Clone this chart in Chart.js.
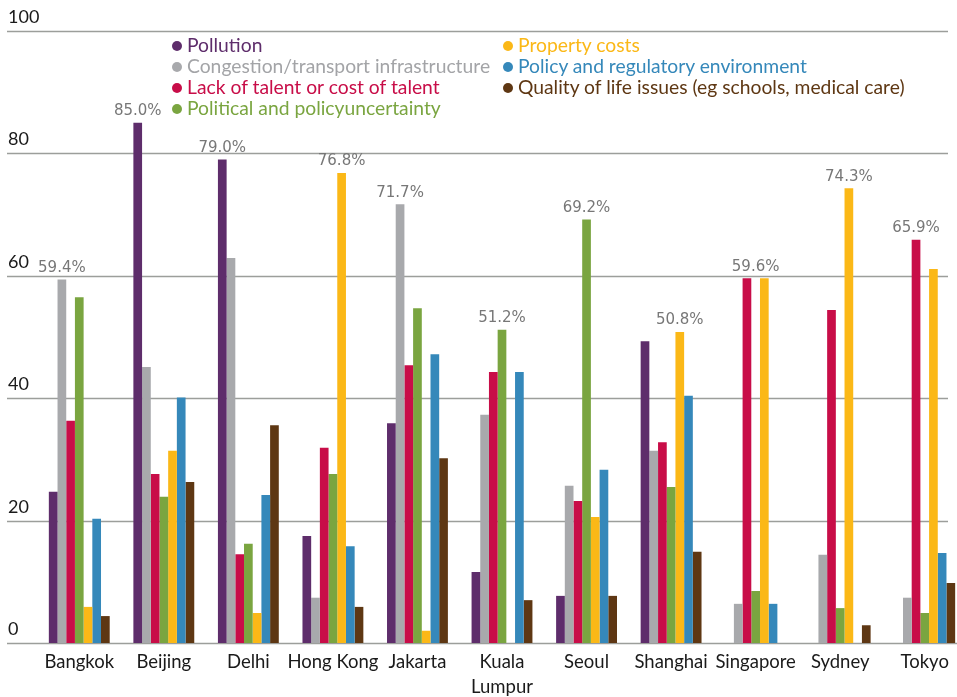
<!DOCTYPE html>
<html>
<head>
<meta charset="utf-8">
<script src="https://cdn.jsdelivr.net/npm/chart.js@4.4.1/dist/chart.umd.min.js"></script>
<style>
  html, body { margin: 0; padding: 0; overflow: hidden; background: #fff; }
  #wrap { position: relative; width: 967px; height: 697px; }
  #legend { position: absolute; left: 0; top: 0; font-family: Lato, sans-serif; font-size: 19.3px; }
  .item { position: absolute; white-space: nowrap; line-height: 21px; }
  .dot { display: inline-block; width: 10px; height: 10px; border-radius: 50%; margin-right: 5px; vertical-align: 1px; }
</style>
</head>
<body>
<div id="wrap">
  <canvas id="barChart" width="967" height="697"></canvas>
  <div id="legend"></div>
</div>
<script>
const cities = ["Bangkok", "Beijing", "Delhi", "Hong Kong", "Jakarta", ["Kuala", "Lumpur"], "Seoul", "Shanghai", "Singapore", "Sydney", "Tokyo"];

const pollution    = [24.7, 85.0, 79.0, 17.5, 35.9, 11.6,  7.7, 49.3,  0.0,  0.0,  0.0];
const congestion   = [59.4, 45.1, 62.9,  7.4, 71.7, 37.3, 25.7, 31.4,  6.4, 14.4,  7.4];
const talent       = [36.3, 27.6, 14.5, 31.9, 45.4, 44.3, 23.2, 32.8, 59.6, 54.4, 65.9];
const political    = [56.5, 23.9, 16.2, 27.6, 54.7, 51.2, 69.2, 25.5,  8.5,  5.7,  4.9];
const property     = [ 5.9, 31.4,  4.9, 76.8,  2.0,  0.0, 20.6, 50.8, 59.6, 74.3, 61.1];
const policy       = [20.3, 40.1, 24.2, 15.8, 47.2, 44.3, 28.3, 40.4,  6.4,  0.0, 14.7];
const quality      = [ 4.4, 26.3, 35.6,  5.9, 30.2,  7.0,  7.7, 14.9,  0.0,  2.9,  9.8];

const seriesNames = [
  "Pollution",
  "Congestion/transport infrastructure",
  "Lack of talent or cost of talent",
  "Political and policyuncertainty",
  "Property costs",
  "Policy and regulatory environment",
  "Quality of life issues (eg schools, medical care)"
];
const seriesColors = ["#5e2d6b", "#a8a9ac", "#c80d48", "#7aa540", "#fbb817", "#3588ba", "#5e3713"];
const seriesValues = [pollution, congestion, talent, political, property, policy, quality];

const yTicks = [0, 20, 40, 60, 80, 100];

// legenda em duas colunas
const legend = document.getElementById("legend");
seriesNames.forEach((nome, i) => {
  const col = i < 4 ? 0 : 1;
  const row = i < 4 ? i : i - 4;
  const div = document.createElement("div");
  div.className = "item";
  div.style.left = (col === 0 ? 172 : 503) + "px";
  div.style.top = (34 + row * 21) + "px";
  div.style.color = i === 1 ? "#a3a4a7" : seriesColors[i];
  div.innerHTML = '<span class="dot" style="background:' + seriesColors[i] + '"></span>' + nome;
  legend.appendChild(div);
});

const gradePlugin = {
  id: "grade",
  beforeDatasetsDraw(chart) {
    const { ctx } = chart;
    const y = chart.scales.y;
    ctx.save();
    yTicks.forEach((v) => {
      const py = Math.round(y.getPixelForValue(v)) + 0.5;
      ctx.strokeStyle = "#9c9e9b";
      ctx.lineWidth = 1.5;
      ctx.beginPath();
      ctx.moveTo(7, py);
      ctx.lineTo(v === 0 ? 967 : 948, py);
      ctx.stroke();
      ctx.fillStyle = "#1a1a1a";
      ctx.font = "18px Lato";
      ctx.textBaseline = "bottom";
      ctx.textAlign = "left";
      ctx.fillText(String(v), 8, py - 5);
    });
    ctx.restore();
  }
};

const rotuloPlugin = {
  id: "rotulo",
  afterDatasetsDraw(chart) {
    const { ctx } = chart;
    ctx.save();
    ctx.fillStyle = "#777";
    ctx.font = "15px 'DejaVu Sans'";
    ctx.textAlign = "center";
    ctx.textBaseline = "bottom";
    cities.forEach((c, i) => {
      const max = Math.max(...seriesValues.map((s) => s[i]));
      const xs = [];
      let top = 0;
      seriesValues.forEach((s, d) => {
        if (s[i] === max) {
          const el = chart.getDatasetMeta(d).data[i];
          xs.push(el.x);
          top = el.y;
        }
      });
      const x = xs.reduce((a, b) => a + b, 0) / xs.length;
      ctx.fillText(max.toFixed(1) + "%", x, top - 4);
    });
    ctx.restore();
  }
};

const ctx = document.getElementById("barChart");
new Chart(ctx, {
  type: "bar",
  data: {
    labels: cities,
    datasets: seriesNames.map((nome, i) => ({
      label: nome,
      data: seriesValues[i],
      backgroundColor: seriesColors[i],
      borderWidth: 0,
      categoryPercentage: 0.72,
      barPercentage: 1.0,
    })),
  },
  options: {
    responsive: false,
    animation: false,
    layout: { padding: { left: 37, right: 0, top: 31, bottom: 0 } },
    plugins: {
      legend: { display: false },
      tooltip: { enabled: false },
    },
    scales: {
      x: {
        grid: { display: false, drawTicks: false },
        border: { display: false },
        afterFit(scale) { scale.height = 54; },
        ticks: {
          autoSkip: false,
          maxRotation: 0,
          minRotation: 0,
          padding: 7,
          color: "#1a1a1a",
          font: { family: "Lato", size: 18.5, lineHeight: 1.35 },
        },
      },
      y: {
        display: false,
        min: 0,
        max: 100,
        ticks: { stepSize: 20 },
      },
    },
  },
  plugins: [gradePlugin, rotuloPlugin],
});
</script>
</body>
</html>
